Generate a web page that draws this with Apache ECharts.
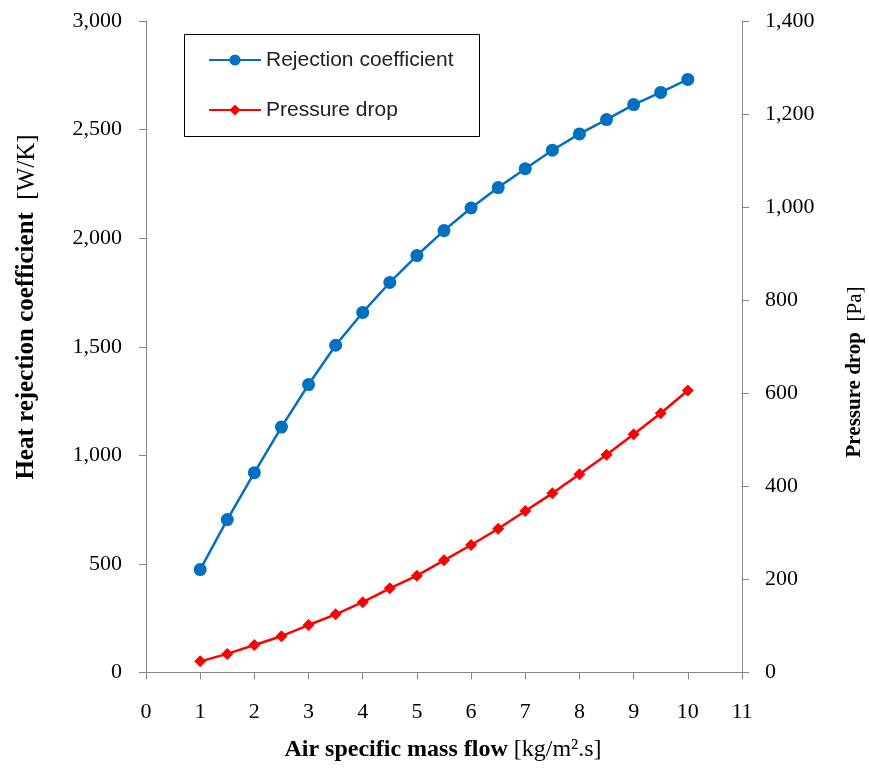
<!DOCTYPE html>
<html>
<head>
<meta charset="utf-8">
<script src="https://cdn.jsdelivr.net/npm/echarts@6/dist/echarts.min.js"></script>
<style>
html,body{margin:0;padding:0;background:#fff;}
#chart{width:869px;height:772px;}
</style>
</head>
<body>
<div id="chart"></div>
<script>
const massFlow = [1, 1.5, 2, 2.5, 3, 3.5, 4, 4.5, 5, 5.5, 6, 6.5, 7, 7.5, 8, 8.5, 9, 9.5, 10];
const rejectionCoeff = [474, 704, 920, 1130, 1326, 1507, 1658, 1796, 1920, 2035, 2139, 2233, 2320, 2405, 2480, 2546, 2615, 2671, 2731];
const pressureDrop = [24, 40, 59, 78, 102, 125, 151, 181, 208, 241, 274, 309, 347, 385, 426, 468, 512, 557, 606];
const seriesNames = ['Rejection coefficient', 'Pressure drop'];

const serif = 'Liberation Serif, Times New Roman, serif';
const axisGrey = '#868686';
const fmt = v => v.toLocaleString('en-US');

const chart = echarts.init(document.getElementById('chart'));
chart.setOption({
  animation: false,
  backgroundColor: '#fff',
  grid: {left: 146, right: 127, top: 21, bottom: 99.5, containLabel: false},
  legend: {
    orient: 'vertical',
    left: 208, top: 48,
    padding: 0,
    itemGap: 26,
    itemWidth: 52, itemHeight: 14,
    textStyle: {fontFamily: 'Liberation Sans, Arial, sans-serif', fontSize: 21, lineHeight: 24, color: '#222'},
    data: seriesNames
  },
  xAxis: {
    type: 'value', min: 0, max: 11, interval: 1,
    axisLine: {show: true, lineStyle: {color: axisGrey, width: 1}},
    axisTick: {show: true, length: 7, lineStyle: {color: axisGrey}},
    splitLine: {show: false},
    axisLabel: {margin: 29, fontFamily: serif, fontSize: 22, color: '#000'}
  },
  yAxis: [
    {
      type: 'value', min: 0, max: 3000, interval: 500, position: 'left',
      axisLine: {show: true, lineStyle: {color: axisGrey, width: 1}},
      axisTick: {show: true, length: 7, lineStyle: {color: axisGrey}},
      splitLine: {show: false},
      axisLabel: {margin: 24, fontFamily: serif, fontSize: 22, color: '#000', formatter: fmt}
    },
    {
      type: 'value', min: 0, max: 1400, interval: 200, position: 'right',
      axisLine: {show: true, lineStyle: {color: axisGrey, width: 1}},
      axisTick: {show: true, length: 7, lineStyle: {color: axisGrey}},
      splitLine: {show: false},
      axisLabel: {margin: 23, fontFamily: serif, fontSize: 22, color: '#000', formatter: fmt}
    }
  ],
  graphic: [
    {
      type: 'rect', shape: {x: 184.5, y: 34.5, width: 295, height: 102},
      style: {fill: 'none', stroke: '#000', lineWidth: 1}, z: 10
    },
    {
      type: 'text', x: 443, y: 750,
      style: {
        text: '{b|Air specific mass flow }{r|[kg/m².s]}',
        align: 'center', verticalAlign: 'middle',
        rich: {
          b: {fontFamily: serif, fontSize: 24, fontWeight: 'bold', fill: '#000'},
          r: {fontFamily: serif, fontSize: 24, fill: '#000'}
        }
      }
    },
    {
      type: 'text', x: 27, y: 307, rotation: Math.PI / 2,
      style: {
        text: '{b|Heat rejection coefficient  }{r|[W/K]}',
        align: 'center', verticalAlign: 'middle',
        rich: {
          b: {fontFamily: serif, fontSize: 25, fontWeight: 'bold', fill: '#000'},
          r: {fontFamily: serif, fontSize: 25, fill: '#000'}
        }
      }
    },
    {
      type: 'text', x: 855, y: 372, rotation: Math.PI / 2,
      style: {
        text: '{b|Pressure drop  }{r|[Pa]}',
        align: 'center', verticalAlign: 'middle',
        rich: {
          b: {fontFamily: serif, fontSize: 21, fontWeight: 'bold', fill: '#000'},
          r: {fontFamily: serif, fontSize: 21, fill: '#000'}
        }
      }
    }
  ],
  series: [
    {
      name: seriesNames[0], type: 'line', yAxisIndex: 0,
      data: massFlow.map((x, i) => [x, rejectionCoeff[i]]),
      symbol: 'circle', symbolSize: 13,
      lineStyle: {color: '#0070C0', width: 2.5},
      itemStyle: {color: '#0070C0'}
    },
    {
      name: seriesNames[1], type: 'line', yAxisIndex: 1,
      data: massFlow.map((x, i) => [x, pressureDrop[i]]),
      symbol: 'diamond', symbolSize: 12,
      lineStyle: {color: '#FF0000', width: 2.5},
      itemStyle: {color: '#FF0000'}
    }
  ]
});
</script>
</body>
</html>
